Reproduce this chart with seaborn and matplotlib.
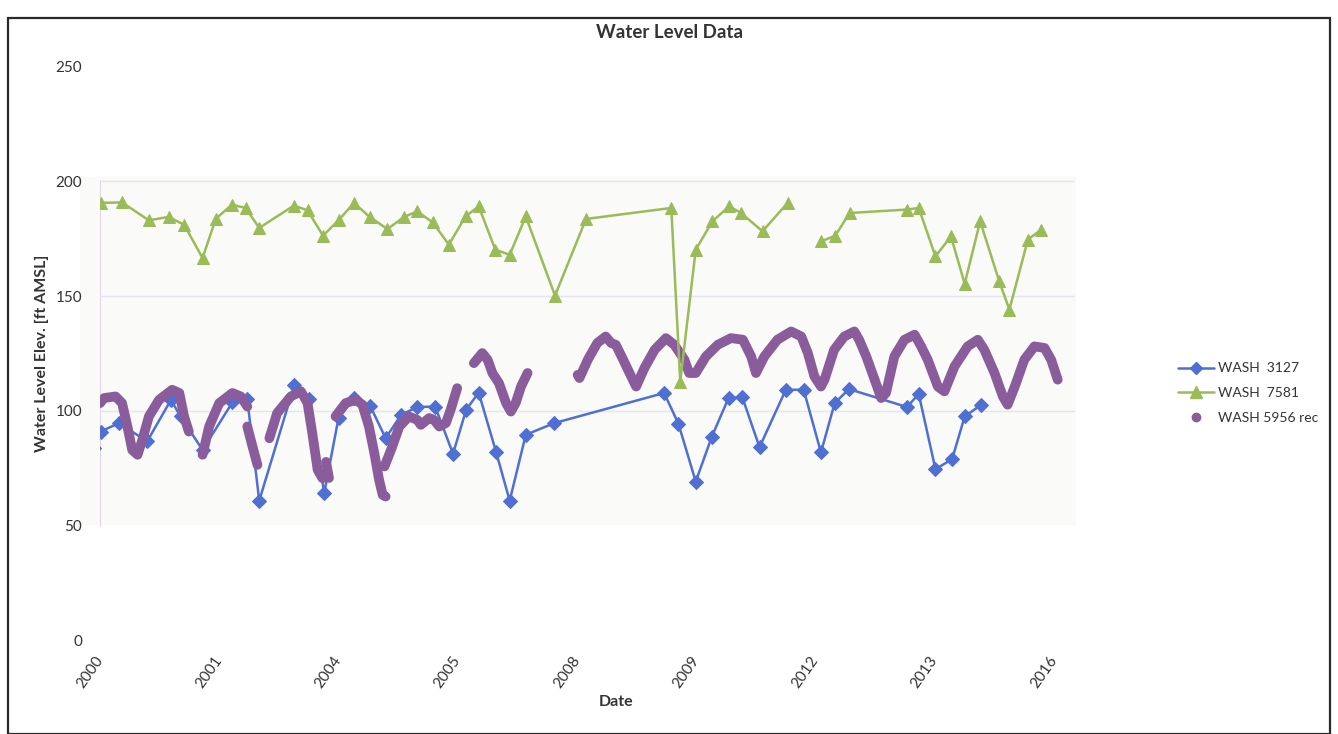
import numpy as np
import pandas as pd
import matplotlib.pyplot as plt
import seaborn as sns
from matplotlib.lines import Line2D
from matplotlib.patches import Rectangle

# values (decimal years, ft AMSL)
blue_year = [1999.9, 2000.01, 2000.32, 2000.79, 2001.19, 2001.35, 2001.72, 2002.22, 2002.47,
             2002.67, 2003.26, 2003.51, 2003.76, 2004.00, 2004.26, 2004.53, 2004.79, 2005.05,
             2005.32, 2005.62, 2005.92, 2006.14, 2006.35, 2006.64, 2006.87, 2007.14, 2007.62,
             2009.46, 2009.70, 2009.99, 2010.26, 2010.54, 2010.77, 2011.06, 2011.50, 2011.80,
             2012.09, 2012.32, 2012.56, 2013.53, 2013.73, 2014.01, 2014.29, 2014.50, 2014.78]
blue_level = [84.0, 91.0, 94.7, 86.7, 104.8, 97.6, 83.0, 103.7, 105.1,
              60.9, 111.4, 105.1, 64.2, 96.9, 105.6, 102.2, 88.1, 98.3,
              101.7, 101.9, 81.3, 100.5, 108.0, 82.3, 60.9, 89.6, 94.7,
              107.8, 94.4, 69.2, 88.8, 105.6, 106.0, 84.2, 109.2, 109.2,
              81.9, 103.4, 109.5, 101.7, 107.3, 74.6, 79.0, 97.6, 102.7]

green_year = [2000.01, 2000.37, 2000.82, 2001.15, 2001.41, 2001.72, 2001.94, 2002.21, 2002.44,
              2002.67, 2003.25, 2003.48, 2003.74, 2004.01, 2004.26, 2004.52, 2004.82, 2005.10,
              2005.32, 2005.58, 2005.85, 2006.13, 2006.35, 2006.63, 2006.87, 2007.14, 2007.63,
              2008.15, 2009.58, 2009.73, 2009.99, 2010.27, 2010.55, 2010.75, 2011.11, 2011.53,
              2012.09, 2012.33, 2012.57, 2013.54, 2013.73, 2014.01, 2014.27, 2014.50, 2014.76,
              2015.08, 2015.25, 2015.56, 2015.78]
green_level = [190.6, 190.8, 183.0, 184.5, 181.1, 166.6, 183.6, 189.8, 188.4,
               179.7, 189.4, 187.4, 176.3, 183.3, 190.6, 184.5, 179.2, 184.5,
               186.9, 182.1, 172.4, 184.7, 189.1, 170.2, 168.0, 184.7, 150.2,
               183.6, 188.4, 112.8, 170.2, 182.6, 189.1, 186.2, 178.2, 190.6,
               173.8, 176.3, 186.2, 187.7, 188.4, 167.3, 176.0, 155.4, 182.6,
               156.4, 144.1, 174.6, 178.9]
green_seg = [0] * 36 + [1] * 13

purple_year = [2000.00, 2000.07, 2000.26, 2000.37, 2000.46, 2000.54, 2000.63, 2000.71, 2000.82,
               2000.99, 2001.21, 2001.33, 2001.41, 2001.49,
               2001.72, 2001.83, 2002.00, 2002.22, 2002.36, 2002.47,
               2002.47, 2002.55, 2002.64,
               2002.84, 2002.97, 2003.20, 2003.37, 2003.48, 2003.56, 2003.65, 2003.73,
               2003.79, 2003.84,
               2003.95, 2004.12, 2004.29, 2004.40, 2004.51, 2004.60, 2004.68, 2004.74, 2004.79,
               2004.77, 2004.88, 2005.02, 2005.18, 2005.32, 2005.38, 2005.52, 2005.60, 2005.69,
               2005.80, 2005.88, 2005.99,
               2006.27, 2006.41, 2006.50, 2006.58, 2006.69, 2006.81, 2006.89, 2006.97, 2007.06,
               2007.17,
               2008.01, 2008.04, 2008.18, 2008.34, 2008.48, 2008.57, 2008.65, 2008.76, 2008.88,
               2008.99, 2009.13, 2009.30, 2009.49, 2009.63, 2009.80, 2009.88, 2009.99, 2010.16,
               2010.36, 2010.58, 2010.78, 2010.92, 2011.00, 2011.14, 2011.36, 2011.59, 2011.76,
               2011.87, 2011.98, 2012.09, 2012.15, 2012.31, 2012.48, 2012.65, 2012.73, 2012.85,
               2012.99, 2013.10, 2013.18, 2013.32, 2013.49, 2013.66, 2013.77, 2013.88, 2014.05,
               2014.16, 2014.33, 2014.55, 2014.72, 2014.83, 2015.00, 2015.14, 2015.22, 2015.34,
               2015.50, 2015.67, 2015.84, 2015.95, 2016.06]
purple_level = [103.4, 105.6, 106.3, 103.4, 93.2, 83.0, 80.9, 87.4, 97.6,
                104.8, 109.2, 107.8, 97.6, 91.0,
                80.9, 93.2, 103.4, 107.8, 106.3, 101.9,
                93.2, 85.2, 76.5,
                88.1, 99.0, 106.3, 108.5, 103.4, 90.3, 74.3, 70.7,
                77.8, 70.8,
                97.6, 103.4, 104.8, 102.7, 93.2, 81.6, 70.0, 63.4, 62.7,
                75.8, 83.0, 93.2, 97.6, 96.1, 93.9, 96.9, 96.1, 93.2,
                94.7, 100.5, 109.9,
                120.8, 125.2, 122.3, 116.5, 112.1, 103.4, 99.7, 103.4, 110.6,
                116.5,
                115.7, 114.3, 122.3, 129.6, 132.4, 129.6, 128.8, 123.0, 116.5,
                110.6, 118.7, 126.6, 131.7, 128.8, 122.3, 116.5, 116.5, 123.7,
                128.8, 131.7, 131.0, 123.7, 116.5, 123.7, 131.0, 134.6, 132.4,
                125.2, 115.0, 110.6, 113.6, 126.6, 132.4, 134.6, 131.0, 123.7,
                113.6, 105.6, 107.8, 123.7, 131.0, 133.2, 128.1, 122.3, 110.6,
                108.5, 119.4, 128.1, 131.0, 126.6, 116.5, 106.3, 102.7, 110.6,
                122.3, 128.1, 127.4, 122.3, 113.6]
purple_seg = ([0] * 14 + [1] * 6 + [2] * 3 + [3] * 8 + [4] * 2 + [5] * 9 + [6] * 12
              + [7] * 10 + [8] * 59)

x_ticks = [2000, 2002, 2004, 2006, 2008, 2010, 2012, 2014, 2016]
x_labels = ['2000', '2001', '2004', '2005', '2008', '2009', '2012', '2013', '2016']
y_ticks = [0, 50, 100, 150, 200, 250]

blue_c = '#4f6fd2'
green_c = '#9bbb59'
purple_c = '#8a5c9c'
txt = '#333333'

sns.set_style('white')
plt.rcParams['font.family'] = ['Lato', 'DejaVu Sans']

df_blue = pd.DataFrame({'year': blue_year, 'level': blue_level})
df_green = pd.DataFrame({'year': green_year, 'level': green_level, 'seg': green_seg})
df_purple = pd.DataFrame({'year': purple_year, 'level': purple_level, 'seg': purple_seg})

fig = plt.figure(figsize=(13.38, 7.34), dpi=100)
fig.patch.set_facecolor('white')
# faint grey scan tint behind the upper plot area
fig.patches.append(Rectangle((80 / 1338, 1 - 524 / 734), 995 / 1338, 347 / 734,
                             transform=fig.transFigure, color='#fafaf8', zorder=-2))
# outer chart frame
fig.patches.append(Rectangle((8 / 1338, 0.0), 1322 / 1338, 1 - 18 / 734,
                             transform=fig.transFigure, fill=False, ec='#2a2a2a',
                             lw=1.6, zorder=5))

ax = fig.add_axes([100 / 1338, 1 - 640.5 / 734, 975 / 1338, 574 / 734])
ax.patch.set_alpha(0)

sns.lineplot(data=df_blue, x='year', y='level', ax=ax, color=blue_c, lw=1.8,
             marker='D', markersize=7, markeredgecolor=blue_c, zorder=2)
sns.lineplot(data=df_purple, x='year', y='level', units='seg', estimator=None, ax=ax,
             color=purple_c, lw=7, solid_capstyle='round', solid_joinstyle='round', zorder=3)
sns.lineplot(data=df_green, x='year', y='level', units='seg', estimator=None, ax=ax,
             color=green_c, lw=1.8, marker='^', markersize=9, markeredgecolor=green_c, zorder=4)

ax.set_xlim(2000, 2016.35)
ax.set_ylim(0, 250)
ax.set_yticks(y_ticks)
ax.set_xticks(x_ticks)
ax.set_xticklabels(x_labels, rotation=55, ha='right', va='center', rotation_mode='anchor')
ax.tick_params(axis='y', length=0, pad=13, labelsize=11, labelcolor=txt)
ax.tick_params(axis='x', length=0, pad=12, labelsize=11, labelcolor=txt)

for s in ['top', 'bottom', 'left', 'right']:
    ax.spines[s].set_visible(False)
ax.axvline(2000, ymin=0.2, ymax=0.8, color='#dccbe2', lw=1.2, zorder=1)
for lvl in [100, 150, 200]:
    ax.axhline(lvl, color='#e4e4f2', lw=1, zorder=1)

ax.set_xlabel('Date', fontsize=11.5, fontweight='bold', color=txt)
ax.set_ylabel('Water Level Elev. [ft AMSL]', fontsize=11.5, fontweight='bold', color=txt)
ax.xaxis.set_label_coords(0.529, -0.095)
ax.yaxis.set_label_coords(-0.052, 0.5)

fig.text(670 / 1338, 1 - 33 / 734, 'Water Level Data', ha='center', va='center',
         fontsize=13.5, fontweight='bold', color=txt)

handles = [
    Line2D([], [], color=blue_c, lw=1.8, marker='D', markersize=6, markeredgecolor=blue_c),
    Line2D([], [], color=green_c, lw=1.8, marker='^', markersize=8, markeredgecolor=green_c),
    Line2D([], [], color=purple_c, lw=0, marker='o', markersize=6),
]
ax.legend(handles, ['WASH  3127', 'WASH  7581', 'WASH 5956 rec'], frameon=False,
          loc='center left', bbox_to_anchor=(1165 / 1338, 1 - 393 / 734),
          bbox_transform=fig.transFigure, fontsize=10, handlelength=2.6,
          handletextpad=0.3, labelspacing=0.9, labelcolor=txt)

fig.savefig('out.png', dpi=100, facecolor='white')
